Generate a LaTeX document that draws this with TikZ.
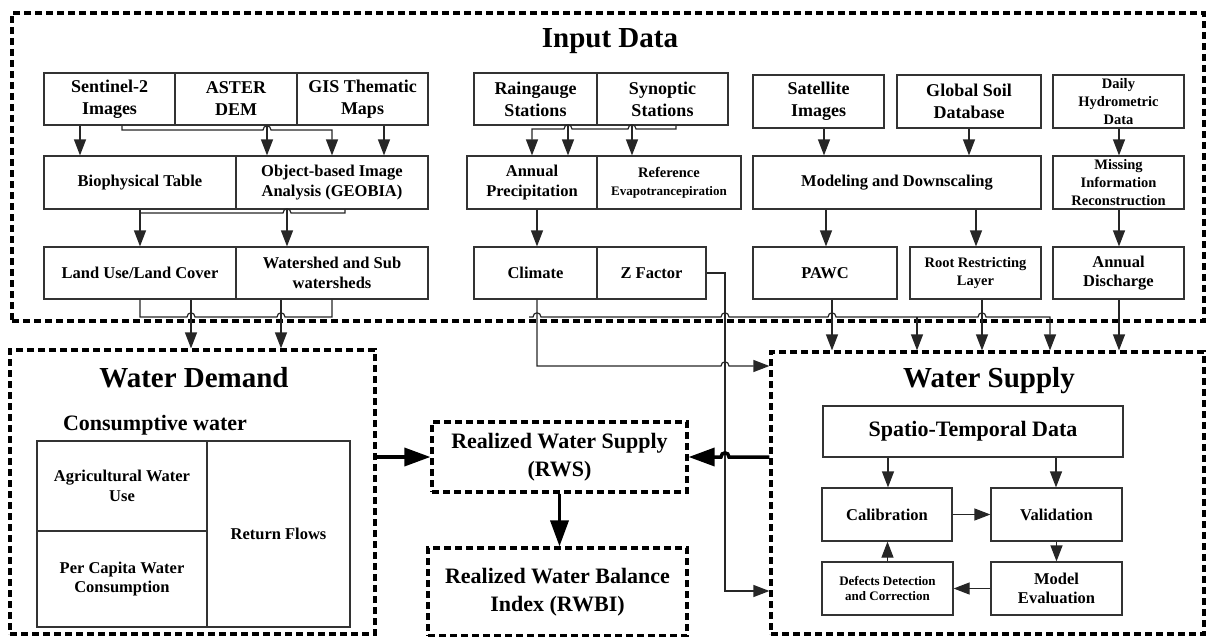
\documentclass[tikz,border=0pt]{standalone}
\usepackage{fontspec}
\setmainfont{Liberation Serif}
\usetikzlibrary{arrows.meta, positioning}

\newcommand{\fhead}{\fontsize{29}{32}\selectfont\bfseries}
\newcommand{\fsub}{\fontsize{22}{28}\selectfont\bfseries}
\newcommand{\fbig}{\fontsize{18}{22}\selectfont\bfseries}
\newcommand{\fmid}{\fontsize{16.5}{19.5}\selectfont\bfseries}
\newcommand{\fsmall}{\fontsize{14.5}{18}\selectfont\bfseries}
\newcommand{\ftiny}{\fontsize{13}{15.5}\selectfont\bfseries}

% line hops (left to right, right to left)
\newcommand{\hopr}[2]{-- ({#1-4},#2) .. controls ({#1-4},{#2-5.5}) and ({#1+4},{#2-5.5}) .. ({#1+4},#2)}
\newcommand{\hopl}[2]{-- ({#1+4},#2) .. controls ({#1+4},{#2-5.5}) and ({#1-4},{#2-5.5}) .. ({#1-4},#2)}

\begin{document}
\begin{tikzpicture}[x=1pt, y=-1pt,
    box/.style={draw=black!80, line width=1.2pt, inner sep=0pt, align=center, font=\fmid},
    dashbox/.style={draw, line width=3.2pt, dash pattern=on 7pt off 4pt, inner sep=0pt, align=center},
    link/.style={draw=black!85, line width=1.2pt},
    arr/.style={link, -{Triangle[length=16pt, width=12pt]}},
    heavy/.style={line width=3.5pt, -{Triangle[length=26pt, width=18pt]}}]
    \useasboundingbox (0,0) rectangle (1208,637);

    % Containers
    \node[dashbox, minimum width=1192, minimum height=308] (inp) at (608,167) {};
    \node[dashbox, minimum width=365, minimum height=284] (dem) at (192.5,492) {};
    \node[dashbox, minimum width=433, minimum height=282] (sup) at (987.5,493) {};
    \node[anchor=base, font=\fhead] (tinp) at (610,47) {Input Data};
    \node[anchor=base, font=\fhead] (tdem) at (194,387) {Water Demand};
    \node[anchor=base, font=\fhead] (tsup) at (989,387) {Water Supply};

    % Input data, left group
    \node[box, font=\fbig, minimum width=131, minimum height=52] (sent) at (109.5,99) {Sentinel-2\\Images};
    \node[box, font=\fbig, minimum width=122, minimum height=52] (aster) at (236,99) {ASTER\\DEM};
    \node[box, font=\fbig, minimum width=131, minimum height=52] (gis) at (362.5,99) {GIS Thematic\\Maps};
    \node[box, minimum width=192, minimum height=53] (bio) at (140,182.5) {Biophysical Table};
    \node[box, minimum width=192, minimum height=53] (geobia) at (332,182.5) {Object-based Image\\Analysis (GEOBIA)};
    \node[box, minimum width=192, minimum height=52] (lulc) at (140,273) {Land Use/Land Cover};
    \node[box, minimum width=192, minimum height=52] (wshed) at (332,273) {Watershed and Sub\\watersheds};

    % Input data, middle group
    \node[box, font=\fbig, minimum width=123, minimum height=52] (rain) at (535.5,99) {Raingauge\\Stations};
    \node[box, font=\fbig, minimum width=131, minimum height=52] (synop) at (662.5,99) {Synoptic\\Stations};
    \node[box, minimum width=130, minimum height=53] (aprec) at (532,182.5) {Annual\\Precipitation};
    \node[box, font=\fsmall, minimum width=144, minimum height=53] (refet) at (669,182.5) {Reference\\{\ftiny Evapotrancepiration}};
    \node[box, minimum width=123, minimum height=52] (clim) at (535.5,273) {Climate};
    \node[box, minimum width=109, minimum height=52] (zfac) at (651.5,273) {Z Factor};

    % Input data, right group
    \node[box, font=\fbig, minimum width=131, minimum height=53] (sat) at (818.5,101.5) {Satellite\\Images};
    \node[box, font=\fbig, minimum width=144, minimum height=53] (gsoil) at (969,101.5) {Global Soil\\Database};
    \node[box, font=\fsmall, minimum width=131, minimum height=53] (daily) at (1118.5,101.5) {Daily\\Hydrometric\\Data};
    \node[box, minimum width=288, minimum height=53] (model) at (897,182.5) {Modeling and Downscaling};
    \node[box, font=\fsmall, minimum width=131, minimum height=53] (miss) at (1118.5,182.5) {Missing\\Information\\Reconstruction};
    \node[box, minimum width=144, minimum height=52] (pawc) at (825,273) {PAWC};
    \node[box, font=\fsmall, minimum width=131, minimum height=52] (root) at (975.5,273) {Root Restricting\\Layer};
    \node[box, minimum width=131, minimum height=52] (disch) at (1118.5,273) {Annual\\Discharge};

    % Water demand
    \node[anchor=base, font=\fsub] (cons) at (155,430) {Consumptive water};
    \node[box, minimum width=170, minimum height=90] (agri) at (122,486) {Agricultural Water\\Use};
    \node[box, minimum width=170, minimum height=96] (percap) at (122,579) {Per Capita Water\\Consumption};
    \node[box, minimum width=143, minimum height=186] (retf) at (278.5,534) {Return Flows};

    % Realized water supply and balance
    \node[dashbox, font=\fsub, minimum width=255, minimum height=70] (rws) at (559.5,457) {Realized Water Supply\\(RWS)};
    \node[dashbox, font=\fsub, minimum width=259, minimum height=88] (rwbi) at (557.5,592) {Realized Water Balance\\Index (RWBI)};

    % Water supply
    \node[box, font=\fsub, minimum width=300, minimum height=51] (spat) at (973,431.5) {Spatio-Temporal Data};
    \node[box, minimum width=130, minimum height=53] (calib) at (887,514.5) {Calibration};
    \node[box, minimum width=131, minimum height=53] (valid) at (1056.5,514.5) {Validation};
    \node[box, font=\ftiny, minimum width=131, minimum height=53] (defect) at (887.5,588.5) {Defects Detection\\and Correction};
    \node[box, minimum width=131, minimum height=53] (modev) at (1056.5,588.5) {Model\\Evaluation};

    % Left group wiring
    \draw[arr] (80,0 |- sent.south) -- (80,0 |- bio.north);
    \draw[arr] (122,0 |- sent.south) -- (122,130) \hopr{267}{130} -- (332,130) -- (332,0 |- geobia.north);
    \draw[arr] (267,0 |- aster.south) -- (267,0 |- geobia.north);
    \draw[arr] (384,0 |- gis.south) -- (384,0 |- geobia.north);
    \draw[arr] (140,0 |- bio.south) -- (140,0 |- lulc.north);
    \draw[link] (345,0 |- geobia.south) -- (345,213) \hopl{287}{213} -- (140,213);
    \draw[arr] (287,0 |- geobia.south) -- (287,0 |- wshed.north);
    \draw[link] (140,0 |- lulc.south) -- (140,317) \hopr{191}{317} \hopr{281}{317} -- (332,317) -- (332,0 |- wshed.south);
    \draw[arr] (191,0 |- lulc.south) -- (191,0 |- dem.north);
    \draw[arr] (281,0 |- wshed.south) -- (281,0 |- dem.north);

    % Middle group wiring
    \draw[arr] (676,0 |- synop.south) -- (676,129) \hopl{632}{129} \hopl{568}{129} -- (532,129) -- (532,0 |- aprec.north);
    \draw[arr] (568,0 |- rain.south) -- (568,0 |- aprec.north);
    \draw[arr] (632,0 |- synop.south) -- (632,0 |- refet.north);
    \draw[arr] (537,0 |- aprec.south) -- (537,0 |- clim.north);
    \draw[arr] (537,0 |- clim.south) -- (537,366) \hopr{725}{366} -- (sup.west |- 0,366);
    \draw[arr] (zfac.east) -- (725,0 |- zfac.east) -- (725,591) -- (sup.west |- 0,591);

    % Right group wiring
    \draw[arr] (824,0 |- sat.south) -- (824,0 |- model.north);
    \draw[arr] (969,0 |- gsoil.south) -- (969,0 |- model.north);
    \draw[arr] (1119,0 |- daily.south) -- (1119,0 |- miss.north);
    \draw[arr] (826,0 |- model.south) -- (826,0 |- pawc.north);
    \draw[arr] (976,0 |- model.south) -- (976,0 |- root.north);
    \draw[arr] (1119,0 |- miss.south) -- (1119,0 |- disch.north);
    \draw[arr] (529,317) \hopr{537}{317} \hopr{725}{317} \hopr{832}{317} \hopr{982}{317} -- (1050,317) -- (1050,0 |- sup.north);
    \draw[arr] (917,317) -- (917,0 |- sup.north);
    \draw[arr] (832,0 |- pawc.south) -- (832,0 |- sup.north);
    \draw[arr] (982,0 |- root.south) -- (982,0 |- sup.north);
    \draw[arr] (1119,0 |- disch.south) -- (1119,0 |- sup.north);

    % Main flows
    \draw[heavy] (dem.east |- rws.west) -- (rws.west);
    \draw[heavy] (sup.west |- rws.east) \hopl{725}{457} -- (rws.east);
    \draw[heavy] (rws.south) -- (rws.south |- rwbi.north);

    % Water supply loop
    \draw[arr] (888,0 |- spat.south) -- (888,0 |- calib.north);
    \draw[arr] (1056,0 |- spat.south) -- (1056,0 |- valid.north);
    \draw[arr] (calib.east) -- (valid.west);
    \draw[arr] (valid.south) -- (modev.north);
    \draw[arr] (modev.west) -- (defect.east);
    \draw[arr] (defect.north) -- (defect.north |- calib.south);
\end{tikzpicture}
\end{document}
